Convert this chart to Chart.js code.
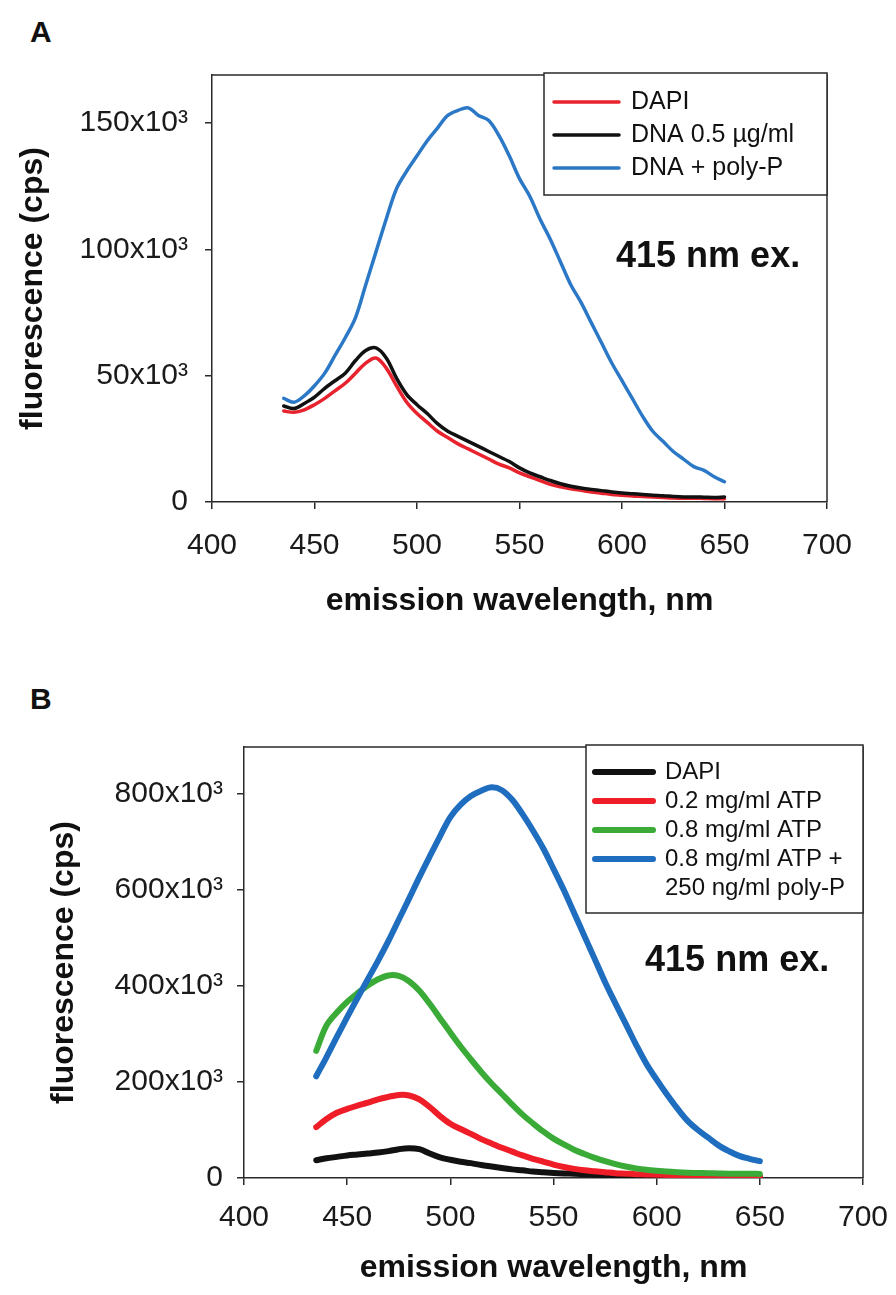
<!DOCTYPE html>
<html>
<head>
<meta charset="utf-8">
<script src="https://cdn.jsdelivr.net/npm/chart.js@4.4.1/dist/chart.umd.min.js"></script>
<style>
  html, body { margin: 0; padding: 0; background: #fff; }
  body { width: 896px; height: 1295px; position: relative; overflow: hidden; font-family: "Liberation Sans", Arial, sans-serif; }
  .panel { position: absolute; left: 30px; font-weight: bold; font-size: 30px; color: #111; }
  canvas { position: absolute; left: 0; }
</style>
</head>
<body>
<div class="panel" style="top:15px">A</div>
<div class="panel" style="top:682px">B</div>
<canvas id="chartA" width="896" height="650" style="top:0"></canvas>
<canvas id="chartB" width="896" height="645" style="top:650px"></canvas>
<script>
// ---------- shared x values (emission wavelength, nm) ----------
const wavelengths = [435,440,445,450,455,460,465,470,475,480,485,490,495,500,505,510,515,520,525,530,535,540,545,550,555,560,565,570,575,580,585,590,595,600,605,610,615,620,625,630,635,640,645,650];
const xTicks = [400,450,500,550,600,650,700];

// ---------- Panel A (values in cps x10^3) ----------
const aLabels = ['DAPI', 'DNA 0.5 \u00b5g/ml', 'DNA + poly-P'];
const aDapi = [36,35.5,36.5,38.5,41,44,47,51,55,57,53,46,39.5,35,31.5,28,25.5,23,21,19,17,15,13.5,11.5,10,8.5,7,6,5.2,4.6,4,3.5,3,2.7,2.4,2.2,2,1.8,1.6,1.5,1.5,1.4,1.3,1.3];
const aDna = [38,37,39,41.5,45,48,51,56,60,61,57,49,42.5,38.5,35,31,28,26,24,22,20,18,16,13.5,11.5,10,8.5,7.2,6.2,5.5,5,4.5,4,3.6,3.3,3,2.7,2.5,2.2,2,2,1.9,1.8,2];
const aPolyP = [41,39.5,42,46,51,58,65,73,86,99,112,124,131,137,143,148,153,155,156,153,151,145,137,128,121,112,104,95,86,79,71,63,55,48,41,34,28,24,20,17,14,12.5,10,8];
const aYTicks = [0,50,100,150];

// ---------- Panel B (values in cps x10^3) ----------
const bLabels = ['DAPI', '0.2 mg/ml ATP', '0.8 mg/ml ATP', '0.8 mg/ml ATP + 250 ng/ml poly-P'];
const bLegendLines = [['DAPI'], ['0.2 mg/ml ATP'], ['0.8 mg/ml ATP'], ['0.8 mg/ml ATP +', '250 ng/ml poly-P']];
const bDapi = [37,41,44,47,49,51,53,56,60,62,60,51,43,38,34,31,27,24,21,18,16,13.5,12,10.5,9.5,9,8,7,6.5,6,5.7,5.4,5.2,5,4.6,4.3,4,3.5,3.2,3,2.7,2.4,2.2,2];
const bAtp02 = [106,123,136,144,151,157,164,169,173,172,164,148,129,113,102,92,81,72,63,55,47,40,34,28,23,19,16,14,12,10,9,8,7.5,7,6.5,6,5.5,5,4.5,4,3.5,3.2,3,3];
const bAtp08 = [265,318,345,367,385,401,414,422,421,410,390,363,333,303,274,247,221,197,175,153,132,114,97,82,70,59,50,42,35,29,24,20,17,15,13.5,12,11,10.5,10,9.5,9,9,9,8.5];
const bAtpPolyP = [212,252,294,335,375,414,453,494,538,582,627,670,712,752,778,796,807,814,808,788,758,724,687,644,600,552,504,456,408,364,321,278,238,205,174,145,119,100,84,68,56,46,40,35];
const bYTicks = [0,200,400,600,800];

const annotationText = '415 nm ex.';

const FONT = '"Liberation Sans", Arial, sans-serif';

function pts(arr) { return wavelengths.map((w, i) => ({ x: w, y: arr[i] * 1000 })); }

// frame around plot area
const framePlugin = {
  id: 'frame',
  afterDraw(chart) {
    const { ctx, chartArea: ca } = chart;
    ctx.save();
    ctx.strokeStyle = '#2a2a2a';
    ctx.lineWidth = 1.5;
    ctx.beginPath();
    ctx.moveTo(ca.left, ca.top); ctx.lineTo(ca.right, ca.top); ctx.lineTo(ca.right, ca.bottom);
    ctx.stroke();
    ctx.restore();
  }
};

// legend box inside plot area, plus annotation text
const boxLegendPlugin = {
  id: 'boxLegend',
  afterDraw(chart, args, o) {
    const { ctx, chartArea: ca } = chart;
    const x0 = ca.right - o.width, y0 = ca.top + o.top;
    ctx.save();
    ctx.fillStyle = '#fff';
    ctx.fillRect(x0, y0, o.width, o.height);
    ctx.strokeStyle = '#2a2a2a';
    ctx.lineWidth = 1.5;
    ctx.strokeRect(x0, y0, o.width, o.height);
    ctx.font = o.fontSize + 'px ' + FONT;
    ctx.textBaseline = 'middle';
    ctx.fillStyle = '#111';
    let row = 0;
    chart.data.datasets.forEach((ds, i) => {
      const y = y0 + o.firstRow + row * o.rowGap;
      ctx.strokeStyle = ds.borderColor;
      ctx.lineWidth = o.lineWidth;
      ctx.lineCap = 'round';
      ctx.beginPath();
      ctx.moveTo(x0 + o.lineStart, y); ctx.lineTo(x0 + o.lineEnd, y);
      ctx.stroke();
      o.lines[i].forEach((t, k) => {
        ctx.fillText(t, x0 + o.textStart, y + k * o.rowGap);
      });
      row += o.lines[i].length;
    });
    // annotation
    const xs = chart.scales.x, ys = chart.scales.y;
    ctx.font = 'bold ' + o.annSize + 'px ' + FONT;
    ctx.textAlign = 'center';
    ctx.fillStyle = '#111';
    ctx.fillText(annotationText, xs.getPixelForValue(o.annX), ys.getPixelForValue(o.annY));
    ctx.restore();
  }
};

function makeChart(id, datasets, cfg) {
  return new Chart(document.getElementById(id), {
    type: 'line',
    data: { datasets },
    plugins: [framePlugin, boxLegendPlugin],
    options: {
      responsive: false,
      animation: false,
      events: [],
      layout: { padding: { top: cfg.padTop, right: cfg.padRight, left: 0, bottom: 0 } },
      elements: { point: { radius: 0 }, line: { tension: 0.35, borderCapStyle: 'round', borderJoinStyle: 'round' } },
      plugins: {
        legend: { display: false },
        tooltip: { enabled: false },
        boxLegend: cfg.legend
      },
      scales: {
        x: {
          type: 'linear', min: 400, max: 700,
          afterBuildTicks: s => { s.ticks = xTicks.map(v => ({ value: v })); },
          afterFit: s => { s.height = cfg.xHeight; },
          grid: { drawOnChartArea: false, drawTicks: true, tickLength: 7, color: '#2a2a2a', lineWidth: 1.5 },
          border: { color: '#2a2a2a', width: 1.5 },
          ticks: { color: '#1a1a1a', font: { family: FONT, size: 30, lineHeight: cfg.xTickLH }, padding: 4, maxRotation: 0 },
          title: { display: true, text: 'emission wavelength, nm', color: '#111',
                   font: { family: FONT, size: 32, weight: 'bold' }, padding: { top: 0, bottom: cfg.xTitlePad } }
        },
        y: {
          type: 'linear', min: 0, max: cfg.yMax,
          afterBuildTicks: s => { s.ticks = cfg.yTicks.map(v => ({ value: v * 1000 })); },
          afterFit: s => { s.width = cfg.yWidth; },
          grid: { drawOnChartArea: false, drawTicks: true, tickLength: 7, color: '#2a2a2a', lineWidth: 1.5 },
          border: { color: '#2a2a2a', width: 1.5 },
          ticks: { color: '#1a1a1a', font: { family: FONT, size: 30 }, padding: cfg.yTickPad,
                   callback: v => v === 0 ? '0' : (v / 1000) + 'x10\u00b3' },
          title: { display: true, text: 'fluorescence (cps)', color: '#111',
                   font: { family: FONT, size: 32, weight: 'bold' }, padding: { top: cfg.yTitlePad, bottom: 0 } }
        }
      }
    }
  });
}

makeChart('chartA', [
  { label: aLabels[0], data: pts(aDapi), borderColor: '#e8232e', borderWidth: 3.5, order: 3 },
  { label: aLabels[1], data: pts(aDna), borderColor: '#111111', borderWidth: 3.5, order: 2 },
  { label: aLabels[2], data: pts(aPolyP), borderColor: '#2b78c6', borderWidth: 3.5, order: 1 }
], {
  padTop: 75, padRight: 69, xHeight: 148, yWidth: 212, yMax: 169000, yTicks: aYTicks,
  xTickLH: 2.2, xTitlePad: 30, yTickPad: 17, yTitlePad: 14,
  legend: { width: 283, top: -2, height: 122, firstRow: 29, rowGap: 33, lineStart: 10, lineEnd: 75,
            textStart: 87, fontSize: 25, lineWidth: 3.5, lines: aLabels.map(l => [l]),
            annX: 642, annY: 97000, annSize: 36 }
});

makeChart('chartB', [
  { label: bLabels[0], data: pts(bDapi), borderColor: '#111111', borderWidth: 6, order: 4 },
  { label: bLabels[1], data: pts(bAtp02), borderColor: '#ee1d27', borderWidth: 6, order: 3 },
  { label: bLabels[2], data: pts(bAtp08), borderColor: '#3bab37', borderWidth: 6, order: 2 },
  { label: bLabels[3], data: pts(bAtpPolyP), borderColor: '#1f6dbf', borderWidth: 6, order: 1 }
], {
  padTop: 97, padRight: 33, xHeight: 117, yWidth: 244, yMax: 898000, yTicks: bYTicks,
  xTickLH: 1.93, xTitlePad: 8, yTickPad: 14, yTitlePad: 45,
  legend: { width: 277, top: -2, height: 168, firstRow: 27, rowGap: 29, lineStart: 9, lineEnd: 67,
            textStart: 79, fontSize: 24, lineWidth: 6, lines: bLegendLines,
            annX: 639, annY: 453000, annSize: 36 }
});
</script>
</body>
</html>
